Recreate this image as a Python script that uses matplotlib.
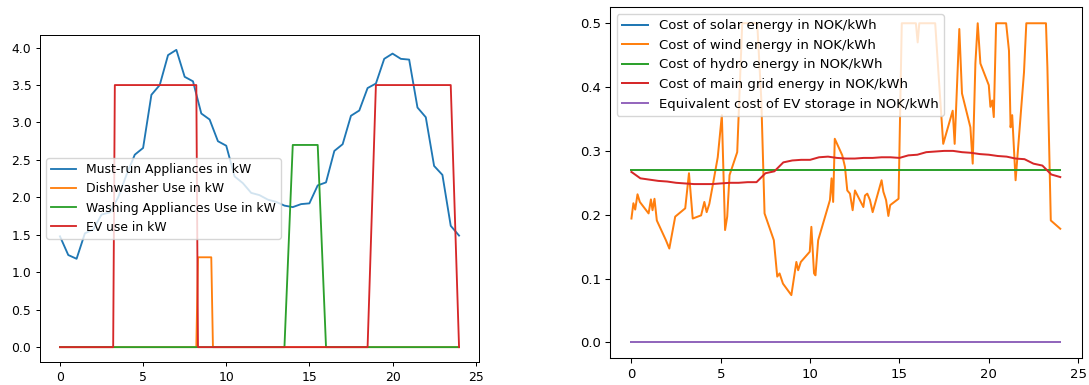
import matplotlib
matplotlib.use("Agg")
import matplotlib.pyplot as plt

# ---------------- Left panel data ----------------
load_hours = [0.0, 0.5, 1.0, 1.5, 2.0, 2.5, 3.0, 3.5, 4.0, 4.5, 5.0, 5.5, 6.0, 6.5,
              7.0, 7.5, 8.0, 8.5, 9.0, 9.5, 10.0, 10.5, 11.0, 11.5, 12.0, 12.5,
              13.0, 13.5, 14.0, 14.5, 15.0, 15.5, 16.0, 16.5, 17.0, 17.5, 18.0,
              18.5, 19.0, 19.5, 20.0, 20.5, 21.0, 21.5, 22.0, 22.5, 23.0, 23.5, 24.0]
must_run_kw = [1.48, 1.23, 1.18, 1.52, 1.57, 1.77, 1.80, 2.00, 2.30, 2.57, 2.66,
               3.37, 3.50, 3.90, 3.97, 3.61, 3.55, 3.12, 3.04, 2.75, 2.69, 2.28,
               2.19, 2.06, 2.03, 1.97, 1.94, 1.89, 1.87, 1.91, 1.92, 2.16, 2.20,
               2.62, 2.71, 3.09, 3.16, 3.46, 3.52, 3.85, 3.92, 3.85, 3.84, 3.20,
               3.07, 2.42, 2.30, 1.62, 1.49]

dish_hours = [0.0, 8.2, 8.3, 9.1, 9.2, 24.0]
dish_kw = [0.0, 0.0, 1.2, 1.2, 0.0, 0.0]

wash_hours = [0.0, 13.5, 14.0, 15.5, 16.0, 24.0]
wash_kw = [0.0, 0.0, 2.7, 2.7, 0.0, 0.0]

ev_hours = [0.0, 3.2, 3.3, 8.2, 8.3, 18.5, 19.0, 23.5, 24.0]
ev_kw = [0.0, 0.0, 3.5, 3.5, 0.0, 0.0, 3.5, 3.5, 0.0]

left_labels = ["Must-run Appliances in kW", "Dishwasher Use in kW",
               "Washing Appliances Use in kW", "EV use in kW"]

# ---------------- Right panel data ----------------
flat_hours = [0.0, 24.0]
solar_cost = [0.0, 0.0]
hydro_cost = [0.27, 0.27]
ev_storage_cost = [0.0, 0.0]

wind_hours = [0.0, 0.11, 0.21, 0.34, 0.47, 0.96, 1.09, 1.18, 1.29, 1.42, 1.93,
              2.12, 2.45, 3.01, 3.22, 3.43, 3.90, 4.08, 4.21, 4.36, 4.55, 4.83,
              5.06, 5.24, 5.36, 5.49, 5.92, 6.20, 7.04, 7.27, 7.45, 7.97, 8.16,
              8.29, 8.48, 8.95, 9.23, 9.33, 9.48, 9.98, 10.07, 10.22, 10.30,
              10.45, 11.11, 11.20, 11.29, 11.38, 11.80, 11.95, 12.08, 12.23,
              12.38, 12.51, 12.98, 13.07, 13.20, 13.35, 13.50, 14.00, 14.10,
              14.25, 14.38, 14.48, 14.95, 15.13, 15.92, 16.02, 16.11, 17.00,
              17.20, 17.45, 17.98, 18.09, 18.35, 18.50, 18.97, 19.10, 19.25,
              19.38, 19.53, 20.00, 20.09, 20.19, 20.28, 20.41, 20.97, 21.13,
              21.22, 21.31, 21.50, 21.97, 22.10, 23.20, 23.28, 23.47, 24.00]
wind_cost = [0.194, 0.218, 0.208, 0.232, 0.220, 0.202, 0.224, 0.207, 0.225,
             0.191, 0.160, 0.147, 0.197, 0.210, 0.265, 0.194, 0.199, 0.220,
             0.204, 0.217, 0.246, 0.290, 0.356, 0.176, 0.197, 0.262, 0.298,
             0.500, 0.500, 0.379, 0.202, 0.160, 0.103, 0.108, 0.092, 0.074,
             0.126, 0.113, 0.126, 0.142, 0.181, 0.108, 0.105, 0.160, 0.223,
             0.257, 0.220, 0.319, 0.293, 0.275, 0.238, 0.233, 0.207, 0.238,
             0.212, 0.230, 0.233, 0.223, 0.204, 0.254, 0.236, 0.223, 0.198,
             0.215, 0.225, 0.500, 0.500, 0.470, 0.500, 0.500, 0.415, 0.311,
             0.363, 0.311, 0.491, 0.390, 0.337, 0.280, 0.437, 0.500, 0.437,
             0.403, 0.369, 0.379, 0.353, 0.500, 0.500, 0.457, 0.337, 0.356,
             0.254, 0.423, 0.500, 0.500, 0.431, 0.191, 0.178]

grid_cost = [0.267, 0.257, 0.255, 0.253, 0.252, 0.250, 0.249, 0.248, 0.248,
             0.248, 0.249, 0.250, 0.250, 0.251, 0.251, 0.265, 0.268, 0.282,
             0.285, 0.286, 0.286, 0.290, 0.291, 0.289, 0.288, 0.288, 0.289,
             0.289, 0.290, 0.290, 0.289, 0.293, 0.294, 0.298, 0.299, 0.300,
             0.300, 0.298, 0.297, 0.295, 0.294, 0.292, 0.291, 0.288, 0.287,
             0.280, 0.277, 0.263, 0.259]

right_labels = ["Cost of solar energy in NOK/kWh", "Cost of wind energy in NOK/kWh",
                "Cost of hydro energy in NOK/kWh", "Cost of main grid energy in NOK/kWh",
                "Equivalent cost of EV storage in NOK/kWh"]

# ---------------- Figure ----------------
fig = plt.figure(figsize=(10.89, 3.85), dpi=100)
ax1 = fig.add_axes([40 / 1089, 23 / 385, 439 / 1089, 327 / 385])
ax2 = fig.add_axes([610 / 1089, 26.7 / 385, 471.7 / 1089, 351 / 385])


def style(ax, s):
    ax.tick_params(labelsize=10 * s, length=3.5 * s, width=0.8 * s, pad=3.5 * s)
    for sp in ax.spines.values():
        sp.set_linewidth(0.8 * s)


s1, s2 = 0.89, 0.95
lw1, lw2 = 1.5 * s1, 1.5 * s2

ax1.plot(load_hours, must_run_kw, color="tab:blue", lw=lw1, label=left_labels[0])
ax1.plot(dish_hours, dish_kw, color="tab:orange", lw=lw1, label=left_labels[1])
ax1.plot(wash_hours, wash_kw, color="tab:green", lw=lw1, label=left_labels[2])
ax1.plot(ev_hours, ev_kw, color="tab:red", lw=lw1, label=left_labels[3])
ax1.legend(loc="center left", fontsize=10 * s1)
style(ax1, s1)

ax2.plot(flat_hours, solar_cost, color="tab:blue", lw=lw2, label=right_labels[0])
ax2.plot(wind_hours, wind_cost, color="tab:orange", lw=lw2, label=right_labels[1])
ax2.plot(flat_hours, hydro_cost, color="tab:green", lw=lw2, label=right_labels[2])
ax2.plot(load_hours, grid_cost, color="tab:red", lw=lw2, label=right_labels[3])
ax2.plot(flat_hours, ev_storage_cost, color="tab:purple", lw=lw2, label=right_labels[4])
ax2.legend(loc="upper left", fontsize=10 * s2)
style(ax2, s2)

fig.savefig("out.png", dpi=100)
